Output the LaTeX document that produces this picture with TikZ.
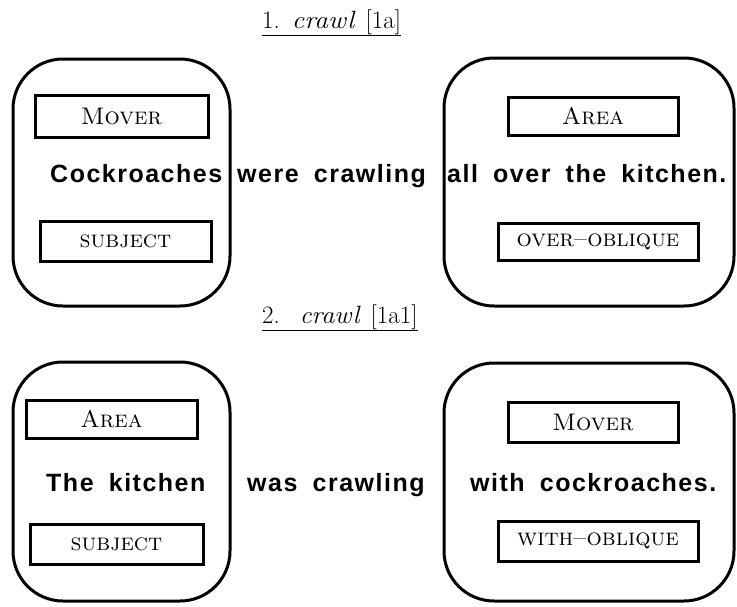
\documentclass[tikz,border=0pt]{standalone}
\usepackage{fontspec}
\newfontfamily\sentfont{Liberation Sans}[LetterSpace=6,WordSpace=1.8]
\usetikzlibrary{positioning}

\begin{document}
\begin{tikzpicture}[x=1pt,y=-1pt,
		bigbox/.style={draw,line width=3pt,rounded corners=50pt,inner sep=0pt},
		rolebox/.style={draw,line width=3pt,inner sep=0pt,font=\fontsize{24}{28}\selectfont},
		sent/.style={inner sep=0pt,anchor=base west,font=\sentfont\bfseries\fontsize{25}{30}\selectfont},
		heading/.style={inner sep=0pt,anchor=base west,font=\fontsize{25}{29}\selectfont}]
		\useasboundingbox (0,0) rectangle (737,606);
		% 1. crawl [1a]
		\node[heading] (headA) at (262,28) {\underline{1.\hspace{12pt}\scalebox{1.1}[1]{\textit{crawl}}\hspace{10pt}[1a]}};
		\node[bigbox,minimum width=217pt,minimum height=247pt] (frameAL) at (121.5,182.5) {};
		\node[bigbox,minimum width=290pt,minimum height=248pt] (frameAR) at (589,182) {};
		\node[rolebox,minimum width=173pt,minimum height=42pt] (moverA) at (121.5,116) {\textsc{Mover}};
		\node[rolebox,minimum width=171pt,minimum height=40pt] (subjA) at (125.5,241) {\textsc{subject}};
		\node[rolebox,minimum width=170pt,minimum height=38pt] (areaA) at (593,116) {\textsc{Area}};
		\node[rolebox,minimum width=200pt,minimum height=37pt] (oblA) at (598,241.5) {\textsc{over--oblique}};
		\node[sent] (wordAL) at (50,182) {Cockroaches};
		\node[sent] (wordAM) at (237,182) {were crawling};
		\node[sent] (wordAR) at (447,182) {all over the kitchen.};
		% 2. crawl [1a1]
		\node[heading] (headB) at (262,323) {\underline{2.\hspace{20pt}\scalebox{1.05}[1]{\textit{crawl}}\hspace{10pt}[1a1]}};
		\node[bigbox,minimum width=217pt,minimum height=239pt] (frameBL) at (121.5,481.5) {};
		\node[bigbox,minimum width=290pt,minimum height=238pt] (frameBR) at (589,482) {};
		\node[rolebox,minimum width=171pt,minimum height=38pt] (areaB) at (111.5,419) {\textsc{Area}};
		\node[rolebox,minimum width=173pt,minimum height=40pt] (subjB) at (116.5,544) {\textsc{subject}};
		\node[rolebox,minimum width=170pt,minimum height=40pt] (moverB) at (593,422) {\textsc{Mover}};
		\node[rolebox,minimum width=200pt,minimum height=40pt] (oblB) at (598,541) {\textsc{with--oblique}};
		\node[sent] (wordBL) at (46,491) {The kitchen};
		\node[sent] (wordBM) at (247,491) {was crawling};
		\node[sent] (wordBR) at (470,491) {with cockroaches.};
		\end{tikzpicture}
\end{document}
